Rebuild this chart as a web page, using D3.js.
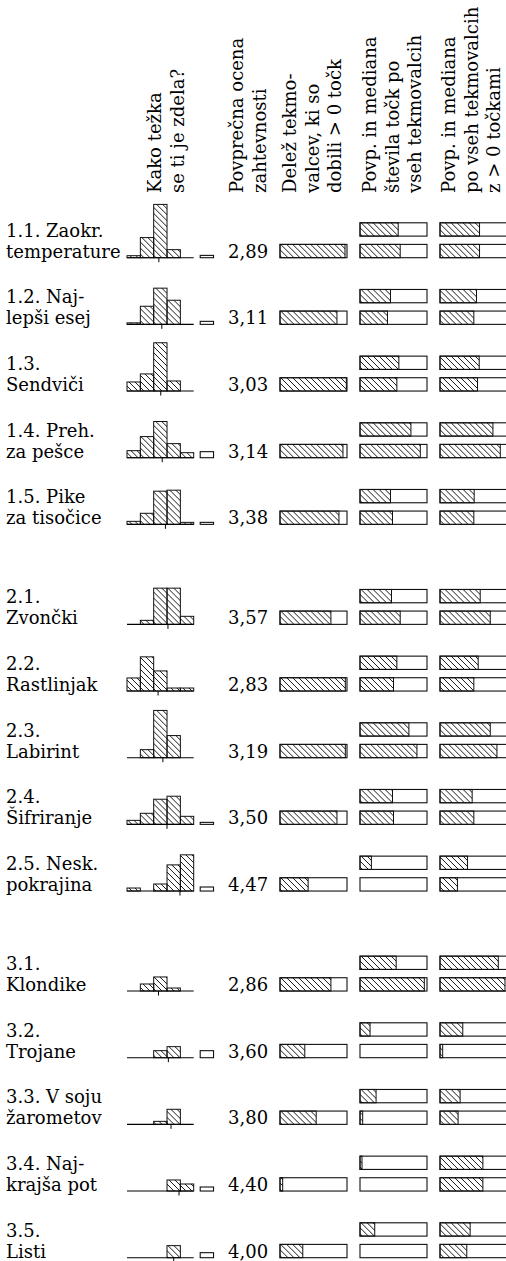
<!DOCTYPE html>
<html>
<head>
<meta charset="utf-8">
<script src="https://cdn.jsdelivr.net/npm/d3@7"></script>
<style>
body { margin: 0; background: #fff; }
text { font-family: "DejaVu Serif", serif; font-size: 18px; fill: #000; }
</style>
</head>
<body>
<script>
// size of window
var width = 506;
var height = 1261;

// column headers (each one is a list of lines)
var headers = [
  ["Kako težka", "se ti je zdela?"],
  ["Povprečna ocena", "zahtevnosti"],
  ["Delež tekmo-", "valcev, ki so", "dobili > 0 točk"],
  ["Povp. in mediana", "števila točk po", "vseh tekmovalcih"],
  ["Povp. in mediana", "po vseh tekmovalcih", "z > 0 točkami"]
];

// tasks
var labels = [
  ["1.1. Zaokr.", "temperature"],
  ["1.2. Naj-", "lepši esej"],
  ["1.3.", "Sendviči"],
  ["1.4. Preh.", "za pešce"],
  ["1.5. Pike", "za tisočice"],
  ["2.1.", "Zvončki"],
  ["2.2.", "Rastlinjak"],
  ["2.3.", "Labirint"],
  ["2.4.", "Šifriranje"],
  ["2.5. Nesk.", "pokrajina"],
  ["3.1.", "Klondike"],
  ["3.2.", "Trojane"],
  ["3.3. V soju", "žarometov"],
  ["3.4. Naj-", "krajša pot"],
  ["3.5.", "Listi"]
];
var groups = [1, 1, 1, 1, 1, 2, 2, 2, 2, 2, 3, 3, 3, 3, 3];

// answers to "how hard was it" (1..5), plus the no answer count
var hist = [
  [2, 20, 53, 8, 0],
  [1.5, 18, 36, 24, 0],
  [9, 17, 48, 10, 0],
  [7, 21, 36, 14, 5],
  [3, 11, 33, 34, 2],
  [0, 4, 36, 36, 8],
  [13, 34, 20, 3, 3],
  [0, 8, 47, 22, 0],
  [4, 11, 25, 28, 8],
  [3, 0, 7, 26, 36],
  [0, 7, 14, 3, 0],
  [0, 0, 7, 11, 0],
  [0, 0, 3, 15, 0],
  [0, 0, 0, 11, 7],
  [0, 0, 0, 12, 0]
];
var noAnswer = [2.3, 3, 0, 6, 2, 0, 0, 0, 2, 4, 0, 7, 0, 4, 5];
var meanRating = [2.89, 3.11, 3.03, 3.14, 3.38, 3.57, 2.83, 3.19, 3.50, 4.47, 2.86, 3.60, 3.80, 4.40, 4.00];

// shares of the max points
var shareScored = [0.97, 0.85, 0.99, 0.94, 0.88, 0.76, 0.975, 0.975, 0.85, 0.42, 0.76, 0.37, 0.54, 0.04, 0.34];
var avgAll = [0.57, 0.455, 0.58, 0.76, 0.455, 0.47, 0.55, 0.73, 0.485, 0.17, 0.54, 0.15, 0.24, 0.03, 0.22];
var medAll = [0.60, 0.41, 0.55, 0.90, 0.485, 0.60, 0.50, 0.85, 0.50, 0, 0.96, 0, 0.04, 0, 0];
var avgScored = [0.59, 0.545, 0.585, 0.79, 0.51, 0.60, 0.57, 0.75, 0.48, 0.41, 0.87, 0.34, 0.30, 0.64, 0.45];
var medScored = [0.59, 0.505, 0.56, 0.90, 0.505, 0.75, 0.505, 0.85, 0.505, 0.26, 0.97, 0.04, 0.27, 0.64, 0.40];

// layout
var labelX = 6;
var meanX = 228;
var barW = 67, barH = 13.3, barGap = 8.3;
var shareX = 280, allX = 360, scoredX = 440;
var headerX = [161, 243, 296, 376, 455];
var headerBottom = 193, headerStep = 22.5;
var lineStep = 21;

var svg = d3.select("body").append("svg")
  .attr("width", width).attr("height", height);

// hatching
svg.append("defs").append("pattern")
  .attr("id", "hatch")
  .attr("patternUnits", "userSpaceOnUse")
  .attr("width", 6).attr("height", 6)
  .append("path")
  .attr("d", "M-1,-1L7,7M-1,5L1,7M5,-1L7,1")
  .attr("stroke", "#000")
  .attr("stroke-width", 0.9);

// scales
var slots = labels.map(function(d, i) { return i + (groups[i] - 1) * 0.5; });
var y = d3.scaleLinear().domain([0, 15]).range([257.7, 1257.7]);
var xHist = d3.scaleLinear().domain([0.5, 5.5]).range([127, 193.7]);
var hHist = d3.scaleLinear().domain([0, 53]).range([0, 53.3]);
var xFrac = d3.scaleLinear().domain([0, 1]).range([0, barW]);
var binW = xHist(1.5) - xHist(0.5);
var fmt = d3.formatLocale({decimal: ",", thousands: ".", grouping: [3], currency: ["", ""]}).format(".2f");

// headers
headers.forEach(function(lines, c) {
  lines.forEach(function(t, k) {
    var hx = headerX[c] + k * headerStep;
    svg.append("text")
      .attr("transform", "translate(" + hx + "," + headerBottom + ") rotate(-90)")
      .text(t);
  });
});

var rows = svg.selectAll("g.row")
  .data(labels)
  .join("g")
  .attr("class", "row")
  .attr("transform", function(d, i) { return "translate(0," + y(slots[i]) + ")"; });

// task names
rows.each(function(d) {
  var g = d3.select(this);
  d.forEach(function(t, k) {
    g.append("text")
      .attr("x", labelX)
      .attr("y", (k - d.length + 1) * lineStep)
      .text(t);
  });
});

// histogram
rows.each(function(d, i) {
  var g = d3.select(this);
  var bins = hist[i].map(function(v, k) { return {k: k + 1, v: v}; })
    .filter(function(b) { return b.v > 0; });
  g.selectAll("rect.bin")
    .data(bins)
    .join("rect")
    .attr("class", "bin")
    .attr("x", function(b) { return xHist(b.k - 0.5); })
    .attr("width", binW)
    .attr("y", function(b) { return -hHist(b.v); })
    .attr("height", function(b) { return hHist(b.v); })
    .attr("fill", "url(#hatch)")
    .attr("stroke", "#111")
    .attr("stroke-width", 1);

  g.append("line")
    .attr("x1", xHist(0.5)).attr("x2", xHist(5.5))
    .attr("y1", 0).attr("y2", 0)
    .attr("stroke", "#000").attr("stroke-width", 1.1);

  g.append("line")
    .attr("x1", xHist(meanRating[i])).attr("x2", xHist(meanRating[i]))
    .attr("y1", 0).attr("y2", 4.5)
    .attr("stroke", "#000").attr("stroke-width", 1);

  // no answer
  g.append("rect")
    .attr("x", xHist(5.5) + 6.5)
    .attr("width", binW)
    .attr("y", -hHist(noAnswer[i]))
    .attr("height", hHist(noAnswer[i]))
    .attr("fill", "#fff")
    .attr("stroke", "#111")
    .attr("stroke-width", 1.1);

  g.append("text")
    .attr("x", meanX)
    .attr("y", 0)
    .text(fmt(meanRating[i]));
});

// progress bars
function bar(g, x0, y0, v) {
  if (v > 0) {
    g.append("rect")
      .attr("x", x0).attr("y", y0)
      .attr("width", xFrac(v)).attr("height", barH)
      .attr("fill", "url(#hatch)")
      .attr("stroke", "#111").attr("stroke-width", 1);
  }
  g.append("rect")
    .attr("x", x0).attr("y", y0)
    .attr("width", xFrac(1)).attr("height", barH)
    .attr("fill", "none")
    .attr("stroke", "#111").attr("stroke-width", 1.1);
}

rows.each(function(d, i) {
  var g = d3.select(this);
  var yBottom = -barH;
  var yTop = -barH * 2 - barGap;
  bar(g, shareX, yBottom, shareScored[i]);
  bar(g, allX, yTop, avgAll[i]);
  bar(g, allX, yBottom, medAll[i]);
  bar(g, scoredX, yTop, avgScored[i]);
  bar(g, scoredX, yBottom, medScored[i]);
});
</script>
</body>
</html>
